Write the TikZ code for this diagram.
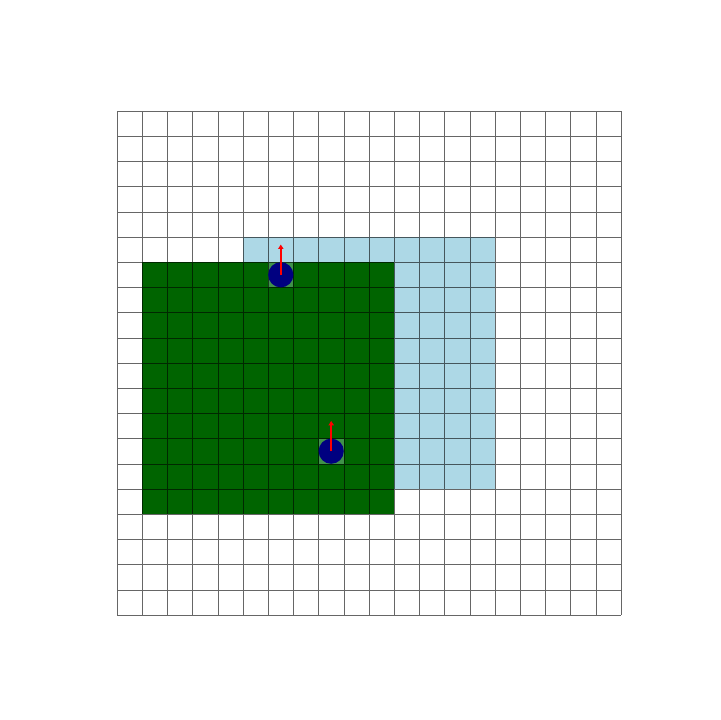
\documentclass[tikz,border=0pt]{standalone}
\usetikzlibrary{arrows.meta}
\definecolor{lblue}{HTML}{ADD8E6}
\definecolor{dgreen}{HTML}{006400}
\definecolor{cellgreen}{HTML}{40924A}
\definecolor{navyc}{HTML}{000080}
\tikzset{
  agent/.style={circle,fill=navyc,inner sep=0pt,minimum size=1cm,draw=none},
  heading/.style={red,line width=2.2pt,-{Triangle[length=5pt,width=6pt]}},
  gridline/.style={black,draw opacity=0.6,line width=0.4pt}
}
\begin{document}
\begin{tikzpicture}[y=-1cm]
\useasboundingbox (-4.643,-4.405) rectangle (23.929,24.167);
\fill[lblue] (5,5) rectangle (15,15);
\fill[dgreen] (1,6) rectangle (11,16);
\fill[cellgreen] (6,6) rectangle (7,7);
\fill[cellgreen] (8,13) rectangle (9,14);
\draw[gridline] (0,0) grid (20,20);
\node[agent] (a1) at (6.5,6.5) {};
\node[agent] (a2) at (8.5,13.5) {};
\coordinate (h1) at (6.5,5.3);
\coordinate (h2) at (8.5,12.3);
\draw[heading] (a1.center) -- (h1);
\draw[heading] (a2.center) -- (h2);
\end{tikzpicture}
\end{document}
